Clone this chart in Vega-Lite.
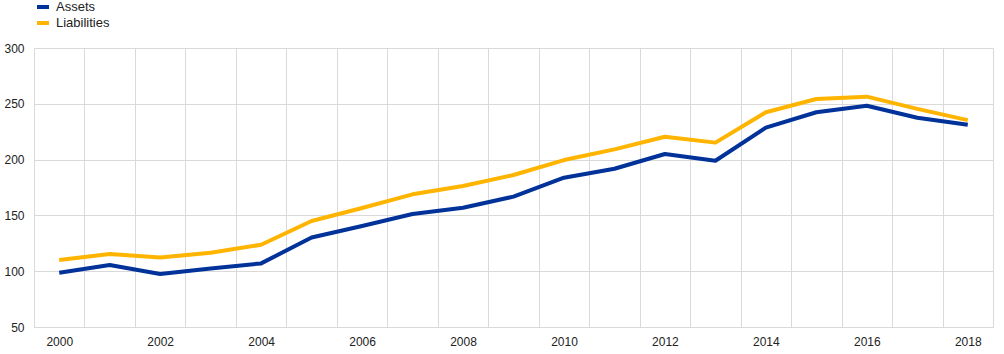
{
  "$schema": "https://vega.github.io/schema/vega-lite/v6.json",
  "width": 959,
  "height": 279,
  "autosize": {"type": "none"},
  "padding": {"left": 34, "top": 48, "right": 11, "bottom": 27},
  "background": "white",
  "config": {
    "view": {"stroke": null},
    "font": "Liberation Sans",
    "axis": {"labelFont": "Liberation Sans", "labelFontSize": 12, "labelColor": "#222222", "gridColor": "#d9d9d9", "gridWidth": 1, "domainColor": "#d9d9d9", "ticks": false, "title": null}
  },
  "data": {
    "values": [
      {"year": 2000, "series": "Assets", "value": 98.7},
      {"year": 2001, "series": "Assets", "value": 105.6},
      {"year": 2002, "series": "Assets", "value": 97.5},
      {"year": 2003, "series": "Assets", "value": 102.5},
      {"year": 2004, "series": "Assets", "value": 107},
      {"year": 2005, "series": "Assets", "value": 130.2},
      {"year": 2006, "series": "Assets", "value": 140.5},
      {"year": 2007, "series": "Assets", "value": 151.3},
      {"year": 2008, "series": "Assets", "value": 156.9},
      {"year": 2009, "series": "Assets", "value": 166.8},
      {"year": 2010, "series": "Assets", "value": 183.8},
      {"year": 2011, "series": "Assets", "value": 191.8},
      {"year": 2012, "series": "Assets", "value": 205},
      {"year": 2013, "series": "Assets", "value": 199},
      {"year": 2014, "series": "Assets", "value": 228.6},
      {"year": 2015, "series": "Assets", "value": 242.4},
      {"year": 2016, "series": "Assets", "value": 248.3},
      {"year": 2017, "series": "Assets", "value": 237.5},
      {"year": 2018, "series": "Assets", "value": 231.3},
      {"year": 2000, "series": "Liabilities", "value": 110},
      {"year": 2001, "series": "Liabilities", "value": 115.4},
      {"year": 2002, "series": "Liabilities", "value": 112.2},
      {"year": 2003, "series": "Liabilities", "value": 116.6},
      {"year": 2004, "series": "Liabilities", "value": 123.7},
      {"year": 2005, "series": "Liabilities", "value": 145},
      {"year": 2006, "series": "Liabilities", "value": 156.6},
      {"year": 2007, "series": "Liabilities", "value": 168.9},
      {"year": 2008, "series": "Liabilities", "value": 176.3},
      {"year": 2009, "series": "Liabilities", "value": 186.2},
      {"year": 2010, "series": "Liabilities", "value": 199.6},
      {"year": 2011, "series": "Liabilities", "value": 209.2},
      {"year": 2012, "series": "Liabilities", "value": 220.5},
      {"year": 2013, "series": "Liabilities", "value": 215.2},
      {"year": 2014, "series": "Liabilities", "value": 242.4},
      {"year": 2015, "series": "Liabilities", "value": 254.3},
      {"year": 2016, "series": "Liabilities", "value": 256.4},
      {"year": 2017, "series": "Liabilities", "value": 245.5},
      {"year": 2018, "series": "Liabilities", "value": 235.4}
    ]
  },
  "mark": {"type": "line", "strokeWidth": 4, "strokeJoin": "round"},
  "encoding": {
    "x": {
      "field": "year",
      "type": "ordinal",
      "bandPosition": 0.5,
      "scale": {"type": "band", "paddingInner": 0, "paddingOuter": 0},
      "axis": {
        "labelAngle": 0,
        "tickBand": "extent",
        "grid": true,
        "domain": true,
        "labelPadding": 9,
        "labelExpr": "datum.value % 2 == 0 ? datum.value : ''"
      }
    },
    "y": {
      "field": "value",
      "type": "quantitative",
      "scale": {"domain": [50, 300], "nice": false},
      "axis": {"values": [50, 100, 150, 200, 250, 300], "grid": true, "domain": true, "labelPadding": 10}
    },
    "color": {
      "field": "series",
      "type": "nominal",
      "scale": {"domain": ["Assets", "Liabilities"], "range": ["#003299", "#ffb400"]},
      "legend": {
        "title": null,
        "orient": "none",
        "legendX": 1,
        "legendY": -49,
        "symbolType": "stroke",
        "symbolSize": 144,
        "symbolStrokeWidth": 4,
        "labelFont": "Liberation Sans",
        "labelFontSize": 13,
        "labelColor": "#222222",
        "rowPadding": 0,
        "labelOffset": 5
      }
    }
  }
}
